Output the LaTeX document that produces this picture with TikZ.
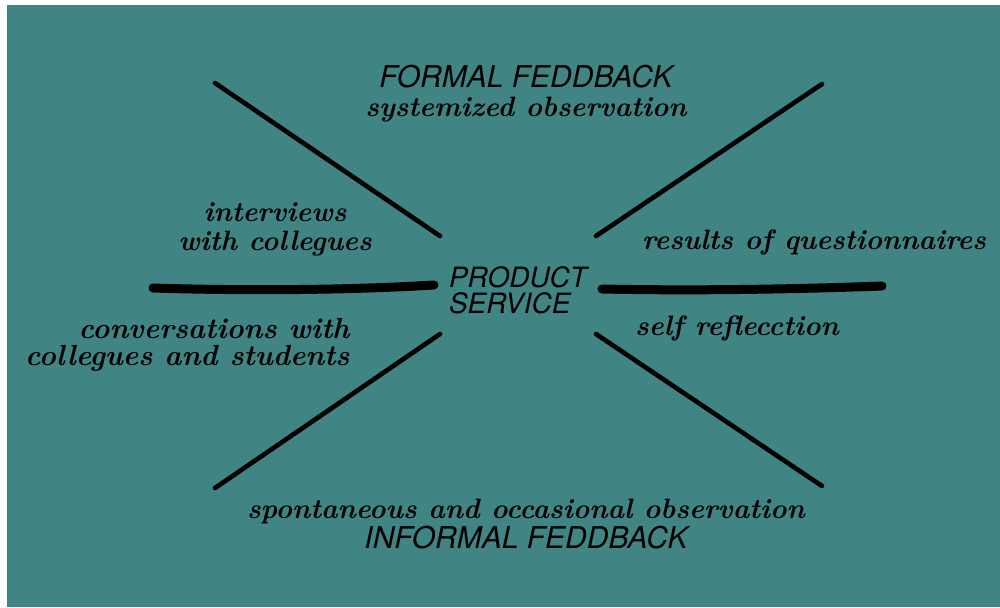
\documentclass[tikz,border=0pt]{standalone}
\usepackage{fontspec}
\newfontfamily\capsfont{TeX Gyre Heros}
\definecolor{teal}{HTML}{408483}
\newcommand{\capsstyle}{\fontsize{15}{14.5}\selectfont\capsfont\mdseries\itshape}
\tikzset{
  script/.style={font=\fontsize{14}{14.5}\selectfont\bfseries\itshape, text=black, inner sep=0pt, align=center},
  caps/.style={font=\capsstyle, text=black, inner sep=0pt, align=center},
  ray/.style={line width=2.3pt, line cap=round, black},
  bar/.style={line width=4.5pt, line cap=round, black}
}
\begin{document}
\begin{tikzpicture}[x=0.5pt,y=-0.5pt]
  \useasboundingbox (0,0) rectangle (1000,607);
  \fill[white] (0,0) rectangle (1000,607);
  \fill[teal] (7,5) rectangle (1000,607);

  % centre label
  \node[caps, font=\fontsize{14}{13}\selectfont\capsfont\itshape, align=left] (center) at (518,290)
    {PRODUCT\\SERVICE};

  % line end points
  \coordinate (ulA) at (215,83);  \coordinate (ulB) at (440,236);
  \coordinate (urA) at (822,84);  \coordinate (urB) at (596,236);
  \coordinate (llA) at (215,488); \coordinate (llB) at (440,334);
  \coordinate (lrA) at (822,486); \coordinate (lrB) at (596,334);
  \coordinate (hlA) at (153,288); \coordinate (hlB) at (434,285);
  \coordinate (hrA) at (602,289); \coordinate (hrB) at (882,286);

  % rays around the centre
  \draw[ray] (ulA) -- (ulB);
  \draw[ray] (urA) -- (urB);
  \draw[ray] (llA) -- (llB);
  \draw[ray] (lrA) -- (lrB);
  \draw[bar] (hlA) .. controls (250,291) and (350,290) .. (hlB);
  \draw[bar] (hrA) .. controls (700,291) and (800,289) .. (hrB);

  % labels
  \node[script] (formal) at (526,94)
    {{\capsstyle FORMAL FEDDBACK}\\systemized observation};
  \node[script] (interv) at (275,229)
    {interviews\\with collegues};
  \node[script] (results) at (814,242) {results of questionnaires};
  \node[script, font=\fontsize{14.5}{13.5}\selectfont\bfseries\itshape, align=right, anchor=east] (conv) at (350,345)
    {conversations with\\collegues and students};
  \node[script] (selfref) at (737,328) {self reflecction};
  \node[script, font=\fontsize{14}{15}\selectfont\bfseries\itshape] (informal) at (526,524)
    {spontaneous and occasional observation\\{\capsstyle INFORMAL FEDDBACK}};
\end{tikzpicture}
\end{document}
